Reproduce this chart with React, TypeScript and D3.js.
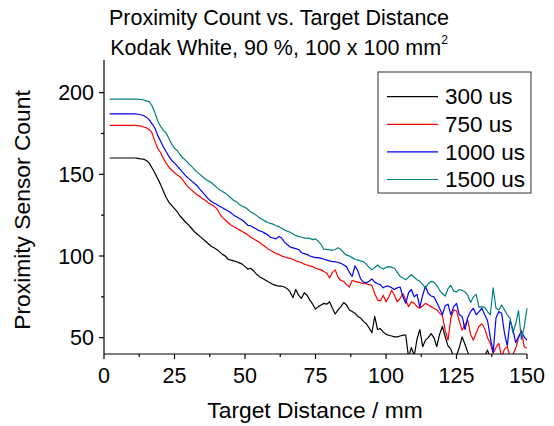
import React from "react";
import * as d3 from "d3";

const distances: number[] = d3.range(2, 151, 1);

const seriesNames = ["300 us", "750 us", "1000 us", "1500 us"];
const seriesColors = ["#000000", "#ff0000", "#0000ff", "#008080"];

const count300: number[] = [
  160, 160, 160, 160, 160, 160, 160, 160, 160, 160, 159.8, 159.5, 159.3,
  158.5, 157, 154, 151, 147.5, 144, 140, 136, 133, 131, 129, 127, 124.5, 122.5, 120.5, 119, 117, 115, 113.5, 112, 110.5, 109, 107.5, 106, 105, 104, 102.5, 101, 100, 98, 97.5, 97, 96.5, 95.8, 95,
  93.5, 92, 92.5, 91, 89, 87.5, 86.5, 85.5, 84.5, 83.5, 82.5, 82, 81.5, 81.5, 81, 80, 78, 74.5, 79.5, 76, 74, 77.5, 76, 73, 70.5, 67.5, 69, 70, 71, 70.5,
  72, 68, 64.5, 67, 69, 71.5, 70, 67, 66, 65, 63, 62, 60, 58.5, 56, 53, 63, 55, 55.5, 53.5, 52, 51.5, 51, 50.5, 50.5, 51, 51.5, 51.5, 38, 44, 39, 49, 55, 44.5,
  48.5, 50, 52.5, 50, 44.5, 52, 57, 50.5, 45, 43, 38, 39, 44, 50.5, 46, 41, 36, 38, 35, 37, 36, 39, 42.5, 37, 35, 36, 34, 37, 35, 36, 34, 37, 35, 33, 36, 35, 34,
];

const count750: number[] = [
  180, 180, 180, 180, 180, 180, 180, 180, 180, 180, 179.8, 179.5, 179,
  178.5, 177.5, 175.5, 170.5, 166, 163.5, 160, 157, 154.5, 152.5, 151, 149.5, 148.5, 146.5, 144, 142, 140.5, 139, 137.5, 136.5, 135, 134, 132.5, 131.5, 130.5, 129, 126, 123.5, 122, 120.5, 119, 118, 117, 116, 115,
  114, 113, 111.5, 110.5, 109.5, 108.5, 107, 106, 104.5, 103.5, 102.5, 101.5, 101, 100, 99.5, 98.8, 98.5, 98, 97, 96.5, 96, 95, 94.5, 94, 93.5, 92.5, 92, 91.5, 90.5, 89.5,
  86.5, 90, 91.5, 87, 85, 84.5, 82.5, 81, 85, 84.5, 84, 83.5, 83, 83, 82.5, 82, 77, 73, 72.5, 76, 72, 75, 79, 76, 72, 74, 77, 73, 69, 72, 71, 69, 68, 69.5,
  71, 70, 69, 68, 67, 65, 63.5, 54.5, 48.5, 62, 67, 66.5, 60, 54.5, 58, 60.5, 52, 48.5, 53, 57, 58.5, 55.5, 50, 46.5, 40.5, 44, 46.5, 38, 43, 44.5, 38, 40, 43.5, 50, 54.5, 44.5, 43.5,
];

const count1000: number[] = [
  187, 187, 187, 187, 187, 187, 187, 187, 187, 187, 186.8, 186.5, 186,
  185, 183.5, 181, 178.5, 174, 170.5, 167, 164, 161, 158.5, 157, 155, 153, 151, 149, 147.5, 146, 144.5, 143, 141, 139, 137, 135, 133.5, 132.5, 131.5, 130.5, 129.5, 128.5, 127.5, 126.5, 125, 124, 123, 122,
  120.5, 118.8, 118.5, 117.5, 116.5, 115.5, 115, 114, 113, 111.5, 111, 110.5, 112, 111, 108.5, 107, 105.5, 105, 104.5, 104, 102, 101.5, 101, 100, 99.5, 99, 99, 98.5, 98, 97.5,
  97, 96.5, 96.5, 96, 95.5, 94.5, 93.5, 90, 87.5, 94, 91, 86, 84, 83.5, 84.5, 86, 84, 83, 82.5, 80.5, 81.5, 81.5, 80.5, 79.5, 80.5, 81, 75, 71, 77.5, 79.5, 75, 76.5, 68.5, 76,
  81.5, 77, 75.5, 75, 71.5, 68, 64, 69.5, 70.5, 64, 69, 71, 64, 63, 55, 62.5, 66, 68, 64, 66, 68, 64, 60.5, 50, 41, 62, 66, 65, 53, 45, 60.5, 55, 47, 50.5, 53.5, 50.5, 48.5,
];

const count1500: number[] = [
  196, 196, 196, 196, 196, 196, 196, 196, 196, 196, 196, 195.8, 195.5,
  195, 194.5, 192, 188, 183, 179.5, 177, 175.5, 172, 168.5, 166, 164.5, 162, 160, 158.5, 156.5, 155, 153, 151.5, 150, 148.5, 147, 146, 145, 143.5, 142, 140.5, 139.5, 138.5, 137, 135.5, 134, 133.3, 131.5, 130.5,
  129.8, 128.5, 127, 126, 125, 123.5, 122.5, 121.5, 120.5, 120, 119.5, 118.5, 118, 117, 116, 115.2, 114.5, 113.5, 112.5, 112, 111.5, 111, 111, 110.8, 110, 110.5, 109, 107, 104, 104,
  103.7, 103.5, 104, 105, 104, 102, 100.5, 100, 99, 98, 97.5, 97, 96.5, 95, 93, 91.5, 93, 94.5, 93, 92, 93, 93.5, 93, 92.5, 90, 87.5, 86.5, 85.5, 87, 88.5, 87, 85.5, 84.5, 82.5,
  80.5, 83, 84.5, 84, 82, 79, 77, 75.5, 80, 82, 78.5, 78, 79.5, 79, 78, 76, 71.5, 75, 76.5, 68.5, 69, 68.5, 66, 64, 80.5, 68, 67, 70, 67, 64, 62, 53, 58.5, 66.5, 49, 56.5, 68,
];

const allSeries = [count300, count750, count1000, count1500];

const xTicks = [0, 25, 50, 75, 100, 125, 150];
const xMinorTicks = [12.5, 37.5, 62.5, 87.5, 112.5, 137.5];
const yTicks = [50, 100, 150, 200];
const yMinorTicks = [75, 125, 175];

const titleLine1 = "Proximity Count vs. Target Distance";
const titleLine2 = "Kodak White, 90 %, 100 x 100 mm";
const xTitle = "Target Distance / mm";
const yTitle = "Proximity Sensor Count";

const W = 554;
const H = 426;
const FONT = "Arial, 'Liberation Sans', sans-serif";

export default function App() {
  const left = 104;
  const right = 527;
  const top = 60;
  const bottom = 354;
  const x = d3.scaleLinear().domain([0, 150]).range([left, right]);
  const y = d3.scaleLinear().domain([40, 220]).range([bottom, top]);
  const line = d3
    .line<number>()
    .x((_, i) => x(distances[i]))
    .y((d) => y(d));

  const legendX = 378;
  const legendY = 72;
  const legendW = 153;
  const legendH = 121;
  const rowH = 27.6;

  return (
    <svg width={W} height={H} style={{ position: "absolute", left: 0, top: 0, background: "#fff" }} fontFamily={FONT}>
      <defs>
        <clipPath id="plotclip">
          <rect x={left} y={top} width={right - left + 2} height={bottom - top} />
        </clipPath>
      </defs>
      <rect x={0} y={0} width={W} height={H} fill="#fff" />
      <text x={279} y={25} textAnchor="middle" fontSize={21.5} fill="#000">
        {titleLine1}
      </text>
      <text x={279} y={55} textAnchor="middle" fontSize={21.5} fill="#000">
        {titleLine2}
        <tspan fontSize={12} dy={-11}>2</tspan>
      </text>

      <g clipPath="url(#plotclip)">
        {allSeries.map((s, i) => (
          <path key={i} d={line(s) || ""} fill="none" stroke={seriesColors[i]} strokeWidth={1.2} strokeLinejoin="round" />
        ))}
      </g>

      <line x1={left} x2={left} y1={top} y2={bottom} stroke="#000" strokeWidth={1.2} />
      <line x1={left} x2={right} y1={bottom} y2={bottom} stroke="#000" strokeWidth={1.2} />
      {xTicks.map((t) => (
        <g key={"xt" + t}>
          <line x1={x(t)} x2={x(t)} y1={bottom} y2={bottom + 5} stroke="#000" strokeWidth={1.2} />
          <text x={x(t)} y={383} textAnchor="middle" fontSize={21.5} fill="#000">
            {t}
          </text>
        </g>
      ))}
      {xMinorTicks.map((t) => (
        <line key={"xm" + t} x1={x(t)} x2={x(t)} y1={bottom} y2={bottom + 3} stroke="#000" strokeWidth={1.2} />
      ))}
      {yTicks.map((t) => (
        <g key={"yt" + t}>
          <line x1={left - 5} x2={left} y1={y(t)} y2={y(t)} stroke="#000" strokeWidth={1.2} />
          <text x={94} y={y(t) + 7.5} textAnchor="end" fontSize={21.5} fill="#000">
            {t}
          </text>
        </g>
      ))}
      {yMinorTicks.map((t) => (
        <line key={"ym" + t} x1={left - 3} x2={left} y1={y(t)} y2={y(t)} stroke="#000" strokeWidth={1.2} />
      ))}

      <text x={315} y={418} textAnchor="middle" fontSize={22.8} fill="#000">
        {xTitle}
      </text>
      <text transform={`translate(30,210) rotate(-90)`} textAnchor="middle" fontSize={22.8} fill="#000">
        {yTitle}
      </text>

      <rect x={legendX} y={legendY} width={legendW} height={legendH} fill="#fff" stroke="#333" strokeWidth={1} />
      {seriesNames.map((n, i) => (
        <g key={n}>
          <line x1={387} x2={438} y1={legendY + 24.7 + i * rowH} y2={legendY + 24.7 + i * rowH} stroke={seriesColors[i]} strokeWidth={1.2} />
          <text x={445} y={legendY + 32.3 + i * rowH} fontSize={22.5} fill="#000">
            {n}
          </text>
        </g>
      ))}
    </svg>
  );
}
